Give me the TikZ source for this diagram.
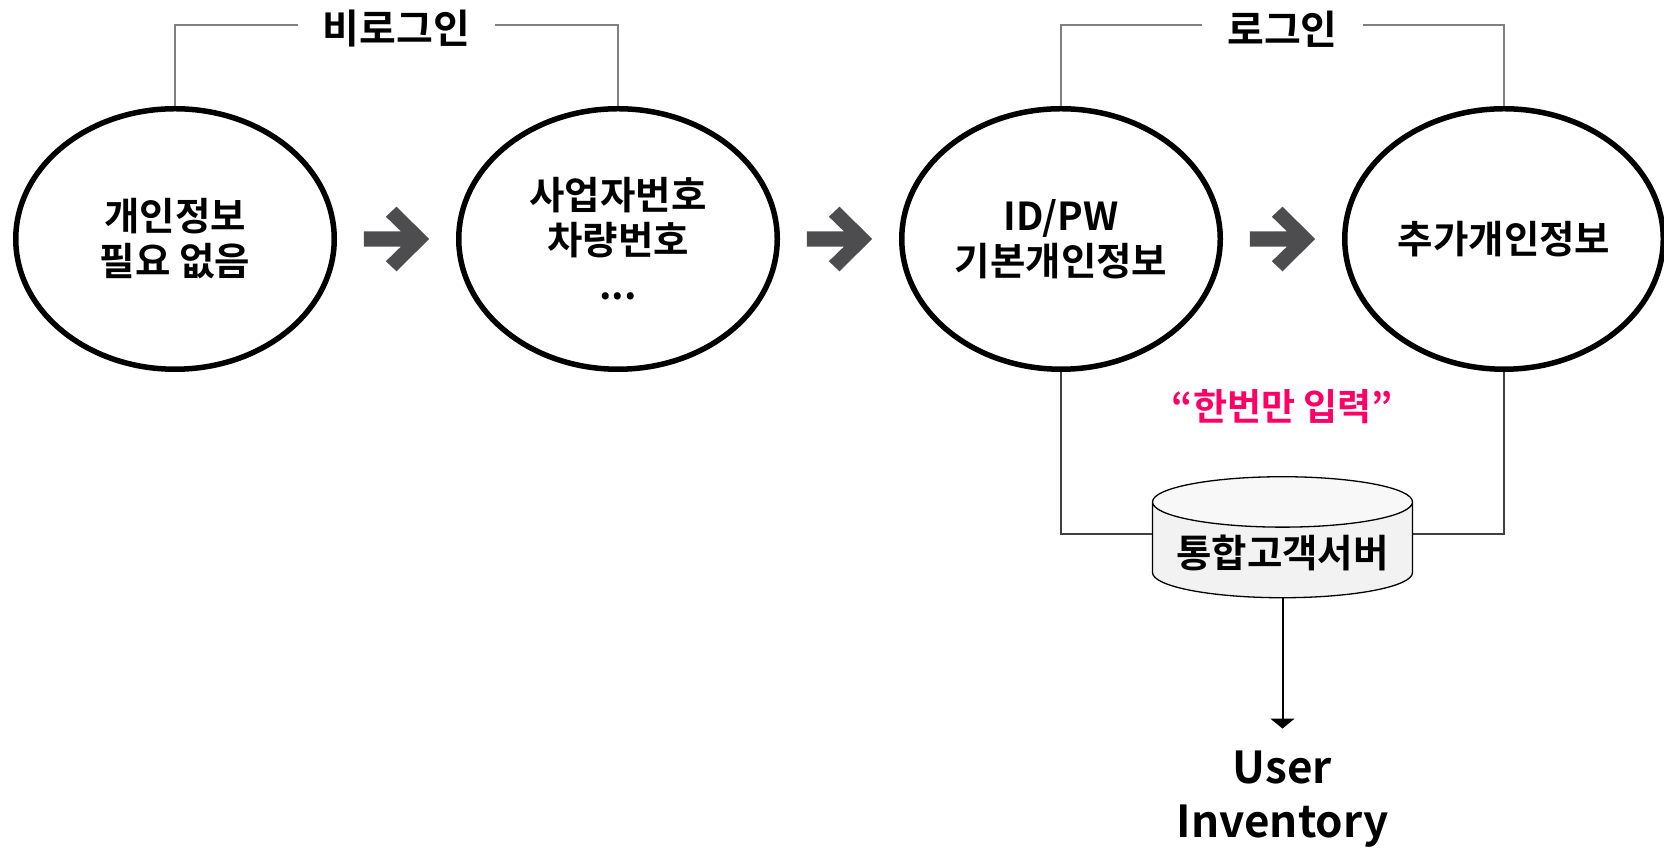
\documentclass[tikz,border=0pt]{standalone}
\usepackage{fontspec}
\newfontfamily\kor{Noto Sans CJK KR}[BoldFont={* Bold}]
\usetikzlibrary{arrows.meta,positioning,calc,shapes.geometric}
\definecolor{arrowgray}{HTML}{4D4D4F}
\definecolor{linegray}{HTML}{808080}
\definecolor{hotpink}{HTML}{FF0066}
\definecolor{dbbody}{HTML}{F2F2F2}
\definecolor{dbtop}{HTML}{F8F8F8}

\begin{document}
\begin{tikzpicture}[x=1pt, y=1pt, node distance=119pt,
  >={Triangle[width=24pt,length=10pt]},
  every node/.append style={align=center, font=\kor\bfseries\fontsize{38.5}{45}\selectfont},
  stage/.style={ellipse, draw, line width=5.5pt, minimum width=318.5pt, minimum height=260.5pt},
  tag/.style={inner xsep=25pt, font=\kor\bfseries\fontsize{40}{44}\selectfont},
  bracket/.style={draw=linegray, line width=1.2pt},
  link/.style={draw=black!75, line width=1.2pt},
  db/.style={cylinder, shape border rotate=90, draw, line width=1.3pt, aspect=0.23,
    minimum width=260pt, minimum height=121pt, cylinder uses custom fill,
    cylinder body fill=dbbody, cylinder end fill=dbtop},
  pics/fwd/.style={code={
    \fill[arrowgray] (-32.65,7.7) -- (4.35,7.7) -- (-10.65,22.3) -- (0,32.3) -- (32.65,0)
      -- (0,-32.3) -- (-10.65,-22.3) -- (4.35,-7.7) -- (-32.65,-7.7) -- cycle;}}]
 \useasboundingbox (0,0) rectangle (1664,850);
 \node [stage] (free) at (175,611) {개인정보\\필요 없음};
 \node [stage, right=of free] (biz) {사업자번호\\차량번호\\...};
 \node [stage, right=of biz] (basic) {ID/PW\\기본개인정보};
 \node [stage, right=of basic] (extra) {추가개인정보};
 \pic at ($(free.east)!0.5!(biz.west)$) {fwd};
 \pic at ($(biz.east)!0.5!(basic.west)$) {fwd};
 \pic at ($(basic.east)!0.5!(extra.west)$) {fwd};
 % login brackets
 \node [tag] (guest) at ($(free.north)!0.5!(biz.north)+(0,77)$) {비로그인};
 \node [tag] (member) at ($(basic.north)!0.5!(extra.north)+(0,77)$) {로그인};
 \draw [bracket] (free.north) |- ([yshift=4pt]guest.west);
 \draw [bracket] (biz.north) |- ([yshift=4pt]guest.east);
 \draw [bracket] (basic.north) |- ([yshift=4pt]member.west);
 \draw [bracket] (extra.north) |- ([yshift=4pt]member.east);
 % server
 \node [text=hotpink, font=\kor\bfseries\fontsize{37}{40}\selectfont] (once)
   at ($(basic)!0.5!(extra)+(0,-168)$) {“한번만 입력”};
 \node [db] (srv) at ($(basic)!0.5!(extra)+(0,-314)$) {통합고객서버};
 \draw [link] (basic.south) |- ([yshift=19pt]srv.west);
 \draw [link] (extra.south) |- ([yshift=19pt]srv.east);
 \node [font=\kor\bfseries\fontsize{44}{54}\selectfont, inner xsep=0pt, inner ysep=22pt]
   (inv) at ($(srv)+(0,-246)$) {User\\Inventory};
 \draw [->, line width=2pt] (srv.south) -- (inv.north);
\end{tikzpicture}
\end{document}
